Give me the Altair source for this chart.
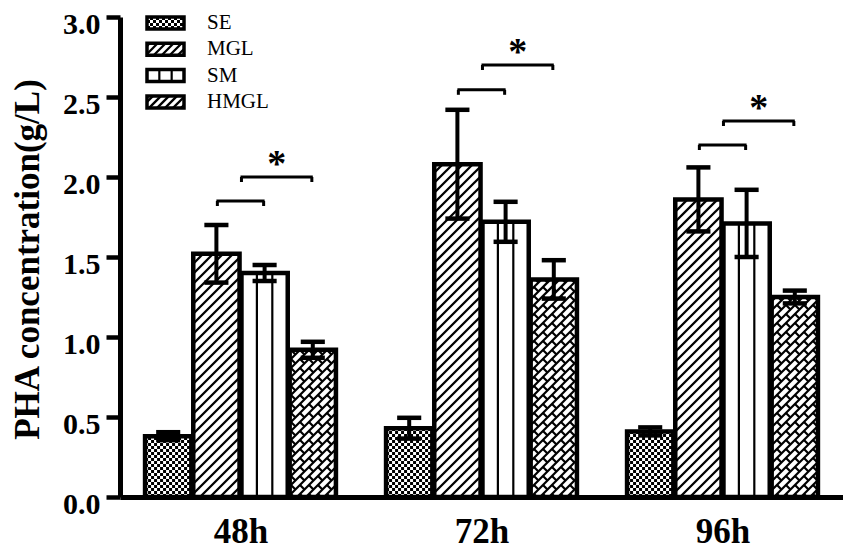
import math
import altair as alt
import pandas as pd

# ---------------- data ----------------
groups = ["48h", "72h", "96h"]
series = ["SE", "MGL", "SM", "HMGL"]
se_mean = [0.38, 0.43, 0.41]
se_err = [0.025, 0.065, 0.025]
mgl_mean = [1.52, 2.08, 1.86]
mgl_err = [0.18, 0.34, 0.20]
sm_mean = [1.40, 1.72, 1.71]
sm_err = [0.05, 0.125, 0.21]
hmgl_mean = [0.92, 1.36, 1.25]
hmgl_err = [0.05, 0.12, 0.04]
bracket_lower = [1.85, 2.545, 2.20]   # MGL vs SM
bracket_upper = [2.00, 2.70, 2.35]    # SM vs HMGL
sig_mark = ["*", "*", "*"]
y_ticks = [0.0, 0.5, 1.0, 1.5, 2.0, 2.5, 3.0]
y_title = "PHA concentration(g/L)"

means = [se_mean, mgl_mean, sm_mean, hmgl_mean]
errs = [se_err, mgl_err, sm_err, hmgl_err]
patterns = ["checker", "diag", "vlines", "brick"]

# ---------------- layout ----------------
W, H = 723, 480
SLOT = 5            # x units per time group
XMAX = SLOT * len(groups)
YMAX = 3.0
SX = W / XMAX
SY = H / YMAX
FONT = "Liberation Serif"


def px(u):
    return u * SX


def py(v):
    return H - v * SY


def ux(x):
    return x / SX


def vy(y):
    return (H - y) / SY


def clip_seg(x0, y0, x1, y1, X0, Y0, X1, Y1):
    dx, dy = x1 - x0, y1 - y0
    t0, t1 = 0.0, 1.0
    for p, q in ((-dx, x0 - X0), (dx, X1 - x0), (-dy, y0 - Y0), (dy, Y1 - y0)):
        if p == 0:
            if q < 0:
                return None
        else:
            t = q / p
            if p < 0:
                t0 = max(t0, t)
            else:
                t1 = min(t1, t)
    if t1 - t0 <= 1e-6:
        return None
    return (x0 + t0 * dx, y0 + t0 * dy, x0 + t1 * dx, y0 + t1 * dy)


def seg_row(a, b, c, d):
    return {"x": ux(a), "y": vy(b), "x2": ux(c), "y2": vy(d)}


def diag_lines(X0, Y0, X1, Y1, s):
    out = []
    k0 = math.floor((X0 + Y0) / s) - 1
    k1 = math.ceil((X1 + Y1) / s) + 1
    for k in range(k0, k1 + 1):
        c = k * s
        r = clip_seg(X0 - 2000, c - X0 + 2000, X1 + 2000, c - X1 - 2000, X0, Y0, X1, Y1)
        if r and math.hypot(r[2] - r[0], r[3] - r[1]) > 0.8:
            out.append(seg_row(*r))
    return out


def brick_lines(X0, Y0, X1, Y1, s1, s2):
    out = diag_lines(X0, Y0, X1, Y1, s1)
    k0 = math.floor((X0 + Y0) / s1) - 1
    k1 = math.ceil((X1 + Y1) / s1) + 1
    m0 = math.floor((X0 - Y1) / s2) - 2
    m1 = math.ceil((X1 - Y0) / s2) + 2
    for k in range(k0, k1 + 1):
        ca, cb = k * s1, (k + 1) * s1
        for m in range(m0, m1 + 1):
            d = m * s2 + (k % 2) * s2 / 2
            r = clip_seg((ca + d) / 2, (ca - d) / 2, (cb + d) / 2, (cb - d) / 2, X0, Y0, X1, Y1)
            if r and math.hypot(r[2] - r[0], r[3] - r[1]) > 0.8:
                out.append(seg_row(*r))
    return out


def checker_rows(X0, Y0, X1, Y1, c):
    even, odd = [], []
    r = 0
    while True:
        yc = Y1 - (r + 0.5) * c
        if yc - c / 2 < Y0 - 0.5:
            break
        row = {"x": ux(X0), "x2": ux(X1), "y": vy(yc)}
        (even if r % 2 == 0 else odd).append(row)
        r += 1
    return even, odd


def vlines(X0, Y0, X1, Y1):
    w = X1 - X0
    return [{"x": ux(X0 + w * f), "y": vy(Y0), "y2": vy(Y1)} for f in (1 / 3, 2 / 3)]


diag_rows, brick_rows, chk_even, chk_odd, vline_rows = [], [], [], [], []


def add_pattern(kind, X0, Y0, X1, Y1, small=False):
    if kind == "checker":
        e, o = checker_rows(X0, Y0, X1, Y1, 3)
        chk_even.extend(e)
        chk_odd.extend(o)
    elif kind == "diag":
        diag_rows.extend(diag_lines(X0, Y0, X1, Y1, 8 if small else 10))
    elif kind == "vlines":
        vline_rows.extend(vlines(X0, Y0, X1, Y1))
    elif kind == "brick":
        if small:
            diag_rows.extend(diag_lines(X0, Y0, X1, Y1, 8))
        else:
            brick_rows.extend(brick_lines(X0, Y0, X1, Y1, 9, 18))


# ---------------- bars ----------------
bar_rows, cap_rows = [], []
for i, g in enumerate(groups):
    for j, s in enumerate(series):
        m = means[j][i]
        e = errs[j][i]
        u0 = SLOT * i + 0.5 + j + 0.02
        u1 = u0 + 0.96
        cu = SLOT * i + 1 + j
        bar_rows.append({"group": g, "series": s, "x": u0, "x2": u1, "y": m, "y2": 0.0,
                         "cx": cu, "lo": m - e, "hi": m + e})
        cap_rows.append({"x": cu - 0.25, "x2": cu + 0.25, "y": m + e})
        cap_rows.append({"x": cu - 0.25, "x2": cu + 0.25, "y": m - e})
        add_pattern(patterns[j], px(u0), py(m), px(u1), py(0))

bars_df = pd.DataFrame(bar_rows)
stem_df = pd.DataFrame({"x": bars_df["cx"], "y": bars_df["lo"], "y2": bars_df["hi"]})
cap_df = pd.DataFrame(cap_rows)

# ---------------- significance brackets ----------------
br_h, br_v, star_rows = [], [], []
tick_len = 5 / SY
for i in range(len(groups)):
    for (a, b, yv) in ((SLOT * i + 2, SLOT * i + 3, bracket_lower[i]),
                       (SLOT * i + 2.5, SLOT * i + 4, bracket_upper[i])):
        br_h.append({"x": a, "x2": b, "y": yv})
        br_v.append({"x": a + 0.02, "y": yv, "y2": yv - tick_len})
        br_v.append({"x": b - 0.02, "y": yv, "y2": yv - tick_len})
    star_rows.append({"x": SLOT * i + 3.25, "y": bracket_upper[i], "text": sig_mark[i]})
brh_df = pd.DataFrame(br_h)
brv_df = pd.DataFrame(br_v)
star_df = pd.DataFrame(star_rows)

# ---------------- legend (pattern swatches) ----------------
leg_rows, leg_text = [], []
sw_x0, sw_x1, sw_h = 27, 64, 12
for j, s in enumerate(series):
    cy = 6 + j * 26.3
    y0, y1 = cy - sw_h / 2, cy + sw_h / 2
    leg_rows.append({"x": ux(sw_x0), "x2": ux(sw_x1), "y": vy(y0), "y2": vy(y1)})
    add_pattern(patterns[j], sw_x0, y0, sw_x1, y1, small=True)
    leg_text.append({"x": ux(87), "y": vy(cy), "text": s})
leg_df = pd.DataFrame(leg_rows)
legt_df = pd.DataFrame(leg_text)

# ---------------- scales / axes ----------------
xscale = alt.Scale(domain=[0, XMAX], nice=False, zero=False)
yscale = alt.Scale(domain=[0, YMAX], nice=False, zero=False)
label_expr = " : ".join(
    [f"datum.value == {SLOT * i + 2.5} ? '{g}'" for i, g in enumerate(groups[:-1])] + [f"'{groups[-1]}'"]
)
xaxis = alt.Axis(values=[SLOT * i + 2.5 for i in range(len(groups))], labelExpr=label_expr,
                 title=None, ticks=False, tickSize=0, grid=False, domainWidth=5,
                 domainColor="black", labelFontSize=35, labelFontWeight="bold", labelFont=FONT,
                 labelPadding=45, labelBaseline="alphabetic", labelColor="black", labelAngle=0)
yaxis = alt.Axis(values=y_ticks, format=".1f", title=y_title, grid=False, tickSize=14,
                 tickWidth=4.5, tickColor="black", domainWidth=5, domainColor="black",
                 labelFontSize=30, labelFontWeight="bold", labelFont=FONT, labelPadding=6,
                 labelBaseline="alphabetic", labelOffset=16, labelColor="black",
                 titleFontSize=35, titleFontWeight="bold", titleFont=FONT, titleX=-82, titleY=242,
                 titleAngle=270, titleBaseline="alphabetic", titleAlign="center", titleColor="black")


def X():
    return alt.X("x:Q", scale=xscale, axis=xaxis)


def Y():
    return alt.Y("y:Q", scale=yscale, axis=yaxis)


layers = []
if chk_even:
    layers.append(alt.Chart(pd.DataFrame(chk_even)).mark_rule(
        color="black", strokeWidth=3, strokeDash=[3, 3], strokeDashOffset=0).encode(
        x=X(), x2="x2:Q", y=Y()))
if chk_odd:
    layers.append(alt.Chart(pd.DataFrame(chk_odd)).mark_rule(
        color="black", strokeWidth=3, strokeDash=[3, 3], strokeDashOffset=3).encode(
        x=X(), x2="x2:Q", y=Y()))
layers.append(alt.Chart(pd.DataFrame(diag_rows)).mark_rule(color="black", strokeWidth=2.3).encode(
    x=X(), y=Y(), x2="x2:Q", y2="y2:Q"))
layers.append(alt.Chart(pd.DataFrame(brick_rows)).mark_rule(color="black", strokeWidth=2.2).encode(
    x=X(), y=Y(), x2="x2:Q", y2="y2:Q"))
layers.append(alt.Chart(pd.DataFrame(vline_rows)).mark_rule(color="black", strokeWidth=2.2).encode(
    x=X(), y=Y(), y2="y2:Q"))
layers.append(alt.Chart(bars_df).mark_rect(fillOpacity=0, stroke="black", strokeWidth=4.5).encode(
    x=X(), x2="x2:Q", y=Y(), y2="y2:Q"))
layers.append(alt.Chart(stem_df).mark_rule(color="black", strokeWidth=4).encode(
    x=X(), y=Y(), y2="y2:Q"))
layers.append(alt.Chart(cap_df).mark_rule(color="black", strokeWidth=4.5).encode(
    x=X(), x2="x2:Q", y=Y()))
layers.append(alt.Chart(brh_df).mark_rule(color="black", strokeWidth=3).encode(
    x=X(), x2="x2:Q", y=Y()))
layers.append(alt.Chart(brv_df).mark_rule(color="black", strokeWidth=3).encode(
    x=X(), y=Y(), y2="y2:Q"))
layers.append(alt.Chart(star_df).mark_text(font=FONT, fontSize=38, fontWeight="bold", color="black",
                                           baseline="alphabetic", align="center", dy=-1).encode(
    x=X(), y=Y(), text="text:N"))
layers.append(alt.Chart(leg_df).mark_rect(fillOpacity=0, stroke="black", strokeWidth=3.5).encode(
    x=X(), x2="x2:Q", y=Y(), y2="y2:Q"))
layers.append(alt.Chart(legt_df).mark_text(font=FONT, fontSize=21, color="black",
                                           baseline="middle", align="left").encode(
    x=X(), y=Y(), text="text:N"))

chart = alt.layer(*layers).properties(
    width=W, height=H,
    autosize=alt.AutoSizeParams(type="none"),
    padding={"left": 112, "top": 9, "right": 0, "bottom": 53},
    background="white",
).configure_view(stroke=None)

chart.save("out.html", embed_options={"renderer": "svg", "actions": False})
